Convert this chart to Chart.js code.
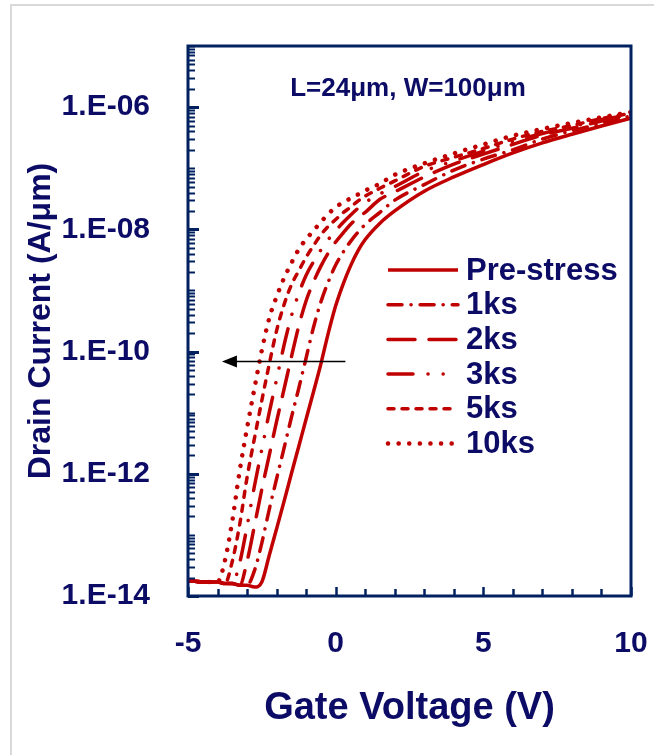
<!DOCTYPE html>
<html>
<head>
<meta charset="utf-8">
<script src="https://cdn.jsdelivr.net/npm/chart.js@4.4.1/dist/chart.umd.min.js"></script>
<style>
  html, body { margin: 0; padding: 0; background: #fff; overflow: hidden; }
  #wrap { position: relative; width: 654px; height: 755px; overflow: hidden; }
  #frame { position: absolute; left: 10px; top: 4px; width: 700px; height: 800px;
           border-left: 2px solid #d9d9d9; border-top: 2px solid #d9d9d9; }
  #chart { position: absolute; left: 0; top: 0; }
</style>
</head>
<body>
<div id="wrap">
  <div id="frame"></div>
  <canvas id="chart" width="654" height="755"></canvas>
</div>
<script>
// Gate voltage sweep (V)
const gateVoltage = [-5, -4.5, -4, -3.75, -3.5, -3.25, -3, -2.75, -2.5, -2.25, -2, -1.75, -1.5, -1.25, -1,
  -0.75, -0.5, -0.25, 0, 0.25, 0.5, 0.75, 1, 1.5, 2, 3, 4, 5, 6, 7, 8, 9, 10];

// Drain current (A/um) for each stress time
const idPreStress = [1.8e-14, 1.7e-14, 1.7e-14, 1.6e-14, 1.6e-14, 1.5e-14, 1.5e-14, 1.4e-14, 1.7e-14, 4.6e-14,
  1.26e-13, 3.5e-13, 1.0e-12, 2.8e-12, 7.9e-12, 2.2e-11, 6.3e-11, 2.0e-10, 5.6e-10, 1.26e-9,
  2.5e-9, 4.4e-9, 6.8e-9, 1.26e-8, 2.0e-8, 4.2e-8, 7.2e-8, 1.15e-7, 1.78e-7, 2.6e-7, 3.6e-7, 4.9e-7, 6.6e-7];
const id1ks = [1.8e-14, 1.7e-14, 1.7e-14, 1.6e-14, 1.6e-14, 1.5e-14, 1.5e-14, 2.6e-14, 7.4e-14, 2.6e-13,
  8.3e-13, 2.6e-12, 8.3e-12, 2.5e-11, 7.9e-11, 2.5e-10, 6.5e-10, 1.38e-9, 2.6e-9, 4.2e-9,
  6.3e-9, 8.9e-9, 1.2e-8, 1.9e-8, 3.0e-8, 5.4e-8, 9.3e-8, 1.41e-7, 2.0e-7, 3.0e-7, 4.1e-7, 5.4e-7, 7.2e-7];
const id2ks = [1.8e-14, 1.7e-14, 1.7e-14, 1.6e-14, 1.6e-14, 1.5e-14, 3.7e-14, 1.41e-13, 5.6e-13, 2.0e-12,
  7.2e-12, 2.4e-11, 8.1e-11, 2.6e-10, 6.8e-10, 1.38e-9, 2.5e-9, 4.1e-9, 6.2e-9, 8.7e-9,
  1.2e-8, 1.55e-8, 1.9e-8, 3.1e-8, 4.1e-8, 7.2e-8, 1.17e-7, 1.7e-7, 2.45e-7, 3.5e-7, 4.5e-7, 5.9e-7, 7.4e-7];
const id3ks = [1.8e-14, 1.7e-14, 1.7e-14, 1.6e-14, 1.6e-14, 3.5e-14, 1.38e-13, 6.3e-13, 2.5e-12, 1.0e-11,
  3.5e-11, 1.26e-10, 3.8e-10, 8.9e-10, 1.78e-9, 2.95e-9, 4.6e-9, 6.8e-9, 9.5e-9, 1.29e-8,
  1.7e-8, 2.2e-8, 2.75e-8, 3.8e-8, 5.0e-8, 8.9e-8, 1.32e-7, 1.9e-7, 2.75e-7, 3.7e-7, 4.8e-7, 6.2e-7, 7.6e-7];
const id5ks = [1.8e-14, 1.7e-14, 1.7e-14, 1.6e-14, 3.7e-14, 1.48e-13, 8.7e-13, 3.8e-12, 1.58e-11, 6.2e-11,
  2.2e-10, 5.8e-10, 1.23e-9, 2.1e-9, 3.5e-9, 5.4e-9, 8.1e-9, 1.12e-8, 1.45e-8, 1.86e-8,
  2.3e-8, 2.9e-8, 3.5e-8, 4.7e-8, 6.2e-8, 1.07e-7, 1.51e-7, 2.1e-7, 3.0e-7, 4.0e-7, 5.0e-7, 6.5e-7, 7.9e-7];
const id10ks = [1.8e-14, 1.7e-14, 1.7e-14, 3.8e-14, 1.7e-13, 1.12e-12, 5.6e-12, 2.5e-11, 1.05e-10, 3.5e-10,
  7.9e-10, 1.58e-9, 2.8e-9, 4.7e-9, 6.9e-9, 9.5e-9, 1.32e-8, 1.78e-8, 2.3e-8, 2.75e-8,
  3.2e-8, 3.7e-8, 4.3e-8, 5.6e-8, 7.8e-8, 1.2e-7, 1.74e-7, 2.45e-7, 3.4e-7, 4.4e-7, 5.5e-7, 6.8e-7, 8.3e-7];

const seriesLabels = ['Pre-stress', '1ks', '2ks', '3ks', '5ks', '10ks'];
const seriesCurrents = [idPreStress, id1ks, id2ks, id3ks, id5ks, id10ks];
const seriesDashes = [[], [14, 9, 0.1, 9], [27, 14], [25, 15, 0.1, 15, 0.1, 15], [6, 8], [0.1, 10.5]];
const seriesWidths = [3.5, 3.5, 3.5, 3.5, 3.5, 4.5];

const xTickLabels = [-5, 0, 5, 10];
const yTickValues = [1e-14, 1e-12, 1e-10, 1e-8, 1e-6];
const yTickLabels = ['1.E-14', '1.E-12', '1.E-10', '1.E-08', '1.E-06'];

const deviceNote = 'L=24\u03bcm, W=100\u03bcm';
const notePosition = [2.45, 2.0e-6];
const arrowFrom = [0.33, 6.9e-11];
const arrowTo = [-3.85, 6.9e-11];

const textColor = '#0c0c66';
const axisColor = '#002060';
const lineColor = '#c00000';
const fontFamily = "'Liberation Sans', Arial, sans-serif";

function yLabelFor(v) {
  const i = yTickValues.findIndex(t => Math.abs(v / t - 1) < 1e-6);
  return i >= 0 ? yTickLabels[i] : '';
}

const datasets = seriesLabels.map((label, i) => ({
  label: label,
  data: gateVoltage.map((v, j) => ({x: v, y: seriesCurrents[i][j]})),
  borderColor: lineColor,
  borderWidth: seriesWidths[i],
  borderDash: seriesDashes[i],
  borderCapStyle: i === 0 ? 'butt' : 'round',
  pointRadius: 0,
  fill: false,
  cubicInterpolationMode: 'monotone'
}));

// frame, inward ticks, legend, note and arrow
const decorations = {
  id: 'decorations',
  afterDatasetsDraw(chart) {
    const {ctx, chartArea: a, scales: {x, y}} = chart;
    ctx.save();
    ctx.strokeStyle = axisColor;

    // y ticks pointing into the plot
    y.ticks.forEach(t => {
      const py = Math.round(y.getPixelForValue(t.value)) + 0.5;
      const major = yLabelFor(t.value) !== '';
      ctx.lineWidth = major ? 3 : 2;
      ctx.beginPath();
      ctx.moveTo(a.left, py);
      ctx.lineTo(a.left + (major ? 11 : 7), py);
      ctx.stroke();
    });
    // x ticks pointing up
    x.ticks.forEach(t => {
      const px = Math.round(x.getPixelForValue(t.value)) + 0.5;
      const major = xTickLabels.includes(t.value);
      ctx.lineWidth = 2.5;
      ctx.beginPath();
      ctx.moveTo(px, a.bottom);
      ctx.lineTo(px, a.bottom - (major ? 9 : 7));
      ctx.stroke();
    });

    // plot frame
    ctx.lineWidth = 3;
    ctx.strokeRect(a.left, a.top, a.right - a.left, a.bottom - a.top);

    // legend
    const lx = a.left + 200;
    const ly = a.top + 224;
    chart.data.datasets.forEach((ds, i) => {
      const yy = ly + i * 34.7;
      ctx.strokeStyle = ds.borderColor;
      ctx.lineWidth = ds.borderWidth;
      ctx.lineCap = ds.borderCapStyle;
      ctx.setLineDash(ds.borderDash);
      ctx.beginPath();
      ctx.moveTo(lx, yy);
      ctx.lineTo(lx + 70, yy);
      ctx.stroke();
      ctx.setLineDash([]);
      ctx.fillStyle = textColor;
      ctx.font = 'bold 31px ' + fontFamily;
      ctx.textAlign = 'left';
      ctx.textBaseline = 'middle';
      ctx.fillText(ds.label, lx + 78, yy + 1);
    });

    // device size note
    ctx.fillStyle = textColor;
    ctx.font = 'bold 26px ' + fontFamily;
    ctx.textAlign = 'center';
    ctx.textBaseline = 'middle';
    ctx.fillText(deviceNote, x.getPixelForValue(notePosition[0]), y.getPixelForValue(notePosition[1]));

    // shift arrow
    const x0 = x.getPixelForValue(arrowFrom[0]);
    const x1 = x.getPixelForValue(arrowTo[0]);
    const ay = y.getPixelForValue(arrowFrom[1]);
    ctx.strokeStyle = '#000';
    ctx.fillStyle = '#000';
    ctx.lineWidth = 1.5;
    ctx.lineCap = 'butt';
    ctx.beginPath();
    ctx.moveTo(x0, ay);
    ctx.lineTo(x1 + 12, ay);
    ctx.stroke();
    ctx.beginPath();
    ctx.moveTo(x1, ay);
    ctx.lineTo(x1 + 15, ay - 6);
    ctx.lineTo(x1 + 15, ay + 6);
    ctx.closePath();
    ctx.fill();
    ctx.restore();
  }
};

new Chart(document.getElementById('chart'), {
  type: 'line',
  data: {datasets: datasets},
  options: {
    responsive: false,
    animation: false,
    devicePixelRatio: 1,
    layout: {padding: {left: 0, top: 46, right: 23, bottom: 0}},
    plugins: {legend: {display: false}, tooltip: {enabled: false}},
    scales: {
      x: {
        type: 'linear',
        min: -5,
        max: 10,
        afterBuildTicks(scale) {
          const ticks = [];
          for (let v = -5; v <= 10; v++) ticks.push({value: v});
          scale.ticks = ticks;
        },
        afterFit(scale) {
          scale.height = 159;
          scale.paddingLeft = 0;
          scale.paddingRight = 0;
        },
        grid: {display: false},
        border: {display: false},
        ticks: {
          autoSkip: false,
          maxRotation: 0,
          padding: 22,
          color: textColor,
          font: {family: fontFamily, size: 30, weight: 'bold'},
          callback: v => xTickLabels.includes(v) ? String(v) : ''
        },
        title: {
          display: true,
          text: 'Gate Voltage (V)',
          color: textColor,
          font: {family: fontFamily, size: 38, weight: 'bold'},
          padding: {top: 0, bottom: 24}
        }
      },
      y: {
        type: 'logarithmic',
        min: 1e-14,
        max: 1e-5,
        afterBuildTicks(scale) {
          const ticks = [];
          for (let e = -14; e <= -6; e++) {
            for (let m = 1; m <= 9; m++) ticks.push({value: m * Math.pow(10, e)});
          }
          ticks.push({value: 1e-5});
          scale.ticks = ticks;
        },
        afterFit(scale) {
          scale.width = 188;
          scale.paddingTop = 0;
          scale.paddingBottom = 0;
        },
        grid: {display: false},
        border: {display: false},
        ticks: {
          autoSkip: false,
          padding: 30,
          color: textColor,
          font: {family: fontFamily, size: 30, weight: 'bold'},
          callback: v => yLabelFor(v)
        },
        title: {
          display: true,
          text: 'Drain Current (A/\u03bcm)',
          color: textColor,
          font: {family: fontFamily, size: 32, weight: 'bold'},
          padding: {top: 22, bottom: 0}
        }
      }
    }
  },
  plugins: [decorations]
});
</script>
</body>
</html>
